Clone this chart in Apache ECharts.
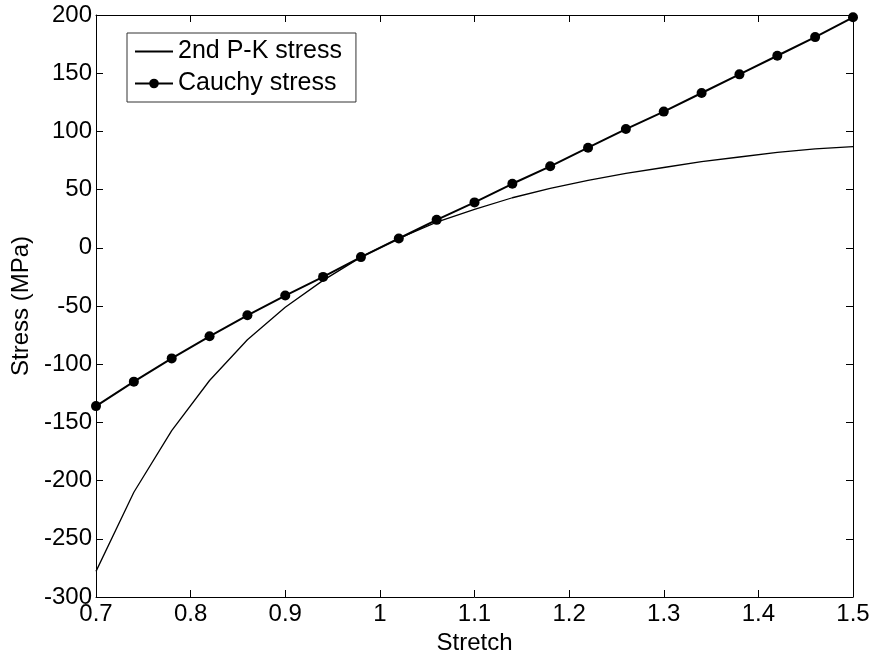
<!DOCTYPE html>
<html>
<head>
<meta charset="utf-8">
<script src="https://cdn.jsdelivr.net/npm/echarts@6/dist/echarts.min.js"></script>
<style>
  html, body { margin: 0; padding: 0; background: #fff; }
  #main { width: 873px; height: 655px; }
</style>
</head>
<body>
<div id="main"></div>
<script>
var stretch = [0.70, 0.74, 0.78, 0.82, 0.86, 0.90, 0.94, 0.98, 1.02, 1.06, 1.10,
               1.14, 1.18, 1.22, 1.26, 1.30, 1.34, 1.38, 1.42, 1.46, 1.50];
var cauchy = [-136, -115, -95, -76, -58, -41, -25, -8, 8, 24, 39,
              55, 70, 86, 102, 117, 133, 149, 165, 181, 198];
var pk = [-278, -210, -157, -114, -79, -51, -28, -8, 8, 22, 33,
          43, 51, 58, 64, 69, 74, 78, 82, 85, 87];

function pairs(xs, ys) {
	var out = [];
	for (var i = 0; i < xs.length; i++) {
		out.push([xs[i], ys[i]]);
	}
	return out;
}

var chartDom = document.getElementById('main');
var myChart = echarts.init(chartDom);
var font = 'Liberation Sans, Arial, sans-serif';

// shared look of the box axes (MATLAB style, ticks inside on all four sides)
function boxAxis(extra) {
	var a = {
		type: 'value',
		axisLine: { show: true, onZero: false, lineStyle: { color: '#000', width: 1 } },
		axisTick: { show: true, inside: true, length: 7, lineStyle: { color: '#000' } },
		axisLabel: { show: false },
		splitLine: { show: false }
	};
	for (var k in extra) a[k] = extra[k];
	return a;
}

var option = {
	animation: false,
	backgroundColor: '#fff',
	grid: { left: 96, right: 20, top: 15, bottom: 58, containLabel: false, outerBoundsMode: 'none' },
	legend: {
		orient: 'vertical',
		left: 127,
		top: 33,
		padding: [6, 14, 6, 7],
		itemGap: 7,
		itemWidth: 38,
		itemHeight: 12,
		backgroundColor: '#fff',
		borderColor: '#333',
		borderWidth: 1,
		borderRadius: 0,
		textStyle: { fontFamily: font, fontSize: 25, color: '#000' },
		data: [
			{ name: '2nd P-K stress', itemStyle: { opacity: 0 } },
			{ name: 'Cauchy stress' }
		]
	},
	xAxis: [
		boxAxis({
			min: 0.7, max: 1.5, interval: 0.1,
			name: 'Stretch',
			nameLocation: 'middle',
			nameGap: 28,
			nameTextStyle: { fontFamily: font, fontSize: 24, color: '#000', verticalAlign: 'top' },
			axisLabel: { show: true, fontFamily: font, fontSize: 24, color: '#000', margin: 5 }
		}),
		boxAxis({ position: 'top', min: 0.7, max: 1.5, interval: 0.1 })
	],
	yAxis: [
		boxAxis({
			min: -300, max: 200, interval: 50,
			name: 'Stress (MPa)',
			nameLocation: 'middle',
			nameGap: 60,
			nameTextStyle: { fontFamily: font, fontSize: 24, color: '#000' },
			axisLabel: { show: true, fontFamily: font, fontSize: 24, color: '#000', margin: 4 }
		}),
		boxAxis({ position: 'right', min: -300, max: 200, interval: 50 })
	],
	series: [{
		name: '2nd P-K stress',
		type: 'line',
		data: pairs(stretch, pk),
		symbol: 'none',
		lineStyle: { color: '#000', width: 1.3 },
		itemStyle: { color: '#000' }
	}, {
		name: 'Cauchy stress',
		type: 'line',
		data: pairs(stretch, cauchy),
		symbol: 'circle',
		symbolSize: 10,
		lineStyle: { color: '#000', width: 2 },
		itemStyle: { color: '#000' }
	}]
};

myChart.setOption(option);
</script>
</body>
</html>
